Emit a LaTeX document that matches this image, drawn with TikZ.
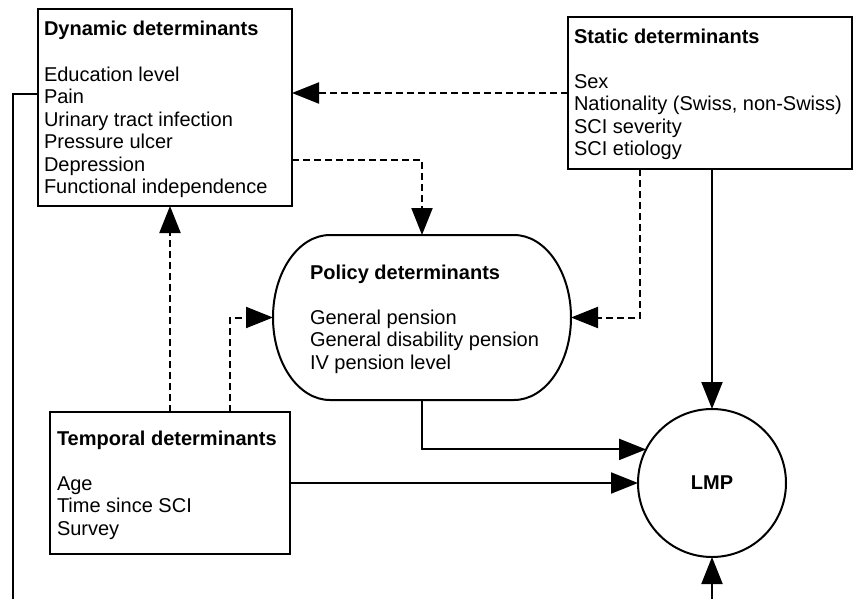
\documentclass[tikz,border=0pt]{standalone}
\usepackage{fontspec}
\setmainfont{Liberation Sans}
\usetikzlibrary{arrows.meta}
\newcommand\itemlines[1]{\vtop{\baselineskip=22.5pt\lineskiplimit=-100pt\halign{##\hfil\cr#1\crcr}}}
\begin{document}
\begin{tikzpicture}[x=1pt,y=-1pt,
  every node/.style={inner sep=0pt,outer sep=0pt},
  txt/.style={anchor=base west,font=\fontsize{20}{22.5}\selectfont},
  ttl/.style={anchor=base west,font=\fontsize{20}{22.5}\selectfont\bfseries},
  boxnode/.style={draw,line width=2pt,rectangle,anchor=north west},
  conn/.style={line width=2pt,-{Triangle[length=27pt,width=21pt]}},
  dconn/.style={conn,dash pattern=on 7pt off 4pt},
  plain/.style={line width=2pt}]
\useasboundingbox (0,0) rectangle (855,598);
\begin{scope}
\clip (0,0) rectangle (855,598);
% boxes
\node[boxnode,minimum width=254pt,minimum height=197pt] (dyn) at (38,9) {};
\node[boxnode,minimum width=284pt,minimum height=152pt] (sta) at (568,17) {};
\node[boxnode,minimum width=240pt,minimum height=142pt] (tem) at (50,412) {};
\node[minimum width=298pt,minimum height=165pt] (pol) at (422,317.5) {};
\draw[plain] (330,235) -- (514,235) arc[start angle=-90,end angle=90,x radius=57,y radius=82.5]
  -- (330,400) arc[start angle=90,end angle=270,x radius=57,y radius=82.5] -- cycle;
\node[draw,line width=2pt,circle,minimum size=148pt] (lmp) at (712,483) {};
\node[font=\fontsize{20}{22.5}\selectfont\bfseries] (lmpt) at (712,483) {LMP};
% texts
\node[ttl] (dynt) at (44,35) {Dynamic determinants};
\node[txt] (dyni) at (44,81) {\itemlines{Education level\cr Pain\cr Urinary tract infection\cr Pressure ulcer\cr Depression\cr Functional independence}};
\node[ttl] (stat) at (574,43) {Static determinants};
\node[txt] (stai) at (574,88) {\itemlines{Sex\cr Nationality (Swiss, non-Swiss)\cr SCI severity\cr SCI etiology}};
\node[ttl] (polt) at (310,279) {Policy determinants};
\node[txt] (poli) at (310,324) {\itemlines{General pension\cr General disability pension\cr IV pension level}};
\node[ttl] (temt) at (57,445) {Temporal determinants};
\node[txt] (temi) at (57,490) {\itemlines{Age\cr Time since SCI\cr Survey}};
% coordinates
\coordinate (dynL) at (38,94);
\coordinate (leftbot) at (13,610);
\coordinate (dynR) at (292,160);
\coordinate (stadash) at (640,169);
\coordinate (tema) at (170,412);
\coordinate (temb) at (230,412);
\coordinate (lmpbot) at (712,610);
% connectors
\draw[dconn] (sta.west) -- (sta.west -| dyn.east);
\draw[dconn] (dynR) -| (pol.north);
\draw[dconn] (stadash) |- (pol.east);
\draw[dconn] (temb) |- (pol.west);
\draw[dconn] (tema) -- (tema |- dyn.south);
\draw[conn] (sta.south -| lmp.north) -- (lmp.north);
\draw[conn] (pol.south) |- (lmp.153.5);
\draw[conn] (tem.east) -- (lmp.west);
\draw[conn] (lmpbot) -- (lmp.south);
\draw[plain] (dynL) -| (leftbot);
\end{scope}
\end{tikzpicture}
\end{document}
